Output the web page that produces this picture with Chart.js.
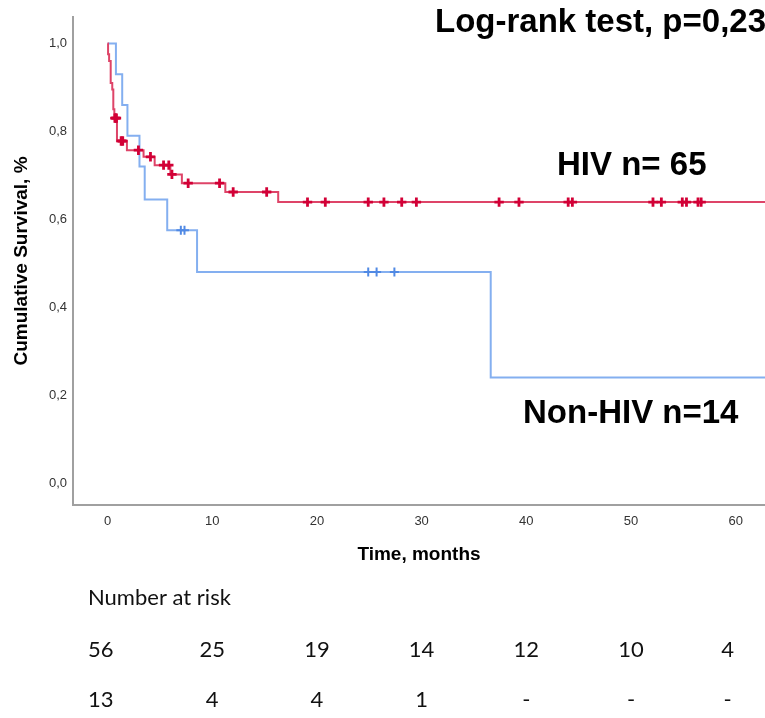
<!DOCTYPE html>
<html>
<head>
<meta charset="utf-8">
<title>Kaplan-Meier HIV / Non-HIV</title>
<script src="https://cdn.jsdelivr.net/npm/chart.js@4.4.1/dist/chart.umd.min.js"></script>
<style>
  html, body { margin: 0; padding: 0; background: #fff; }
  #wrap { position: relative; width: 765px; height: 718px; }
  #kmChart { display: block; }
</style>
</head>
<body>
<div id="wrap"><canvas id="kmChart" width="765" height="718"></canvas></div>
<script>
// ---- Courbe HIV (n=65) : temps des marches (mois) et survie après la marche
const hivTimes = [0, 0.05, 0.15, 0.3, 0.45, 0.55, 0.65, 0.9, 1.85, 3.44, 4.5, 6.0, 7.1, 11.25, 16.3, 62.8];
const hivSurv  = [1.0, 0.975, 0.96, 0.91, 0.895, 0.85, 0.83, 0.778, 0.757, 0.742, 0.723, 0.702, 0.682, 0.662, 0.639, 0.639];
// censures HIV (mois)
const hivCensored = [0.7, 0.78, 0.85, 1.3, 1.45, 2.95, 4.1, 5.35, 5.85, 6.15, 7.7, 10.7, 12.0, 15.2,
                     19.1, 20.8, 24.9, 26.4, 28.1, 29.5, 37.4, 39.3, 44.0, 44.4, 52.1, 52.9, 54.9, 55.3, 56.4, 56.7];

// ---- Courbe Non-HIV (n=14)
const nonHivTimes = [0, 0.8, 1.4, 1.9, 3.05, 3.55, 5.7, 8.55, 36.6, 62.8];
const nonHivSurv  = [1.0, 0.93, 0.86, 0.79, 0.72, 0.645, 0.575, 0.48, 0.24, 0.24];
const nonHivCensored = [7.0, 7.35, 24.9, 25.7, 27.4];

// ---- Axes
const xTicks = [0, 10, 20, 30, 40, 50, 60];
const yTicks = [0, 0.2, 0.4, 0.6, 0.8, 1.0];

// ---- Nombre à risque
const riskHiv    = ['56', '25', '19', '14', '12', '10', '4'];
const riskNonHiv = ['13', '4', '4', '1', '-', '-', '-'];

const RED       = '#de4468';
const RED_MARK  = '#d20036';
const BLUE      = '#84aff0';
const BLUE_MARK = '#5089e4';

// survie au temps t (lecture de la marche)
function survAt(times, surv, t) {
    let s = surv[0];
    for (let i = 0; i < times.length; i++) {
        if (times[i] <= t) s = surv[i];
    }
    return s;
}

const toPoints = (times, surv) => times.map((t, i) => ({ x: t, y: surv[i] }));
const censorPoints = (cens, times, surv) =>
    cens.map(t => ({ x: t, y: survAt(times, surv, t) }));

// ---- Textes hors axes (annotations + table du nombre à risque)
const kmText = {
    id: 'kmText',
    afterDraw(chart) {
        const { ctx } = chart;
        const xs = chart.scales.x;
        ctx.save();
        ctx.fillStyle = '#000';
        ctx.textBaseline = 'middle';
        ctx.textAlign = 'left';
        ctx.font = 'bold 33px "Liberation Sans", Arial, sans-serif';
        ctx.fillText('Log-rank test, p=0,23', 435, 23);
        ctx.fillText('HIV n= 65', 557, 166);
        ctx.fillText('Non-HIV n=14', 523, 414);

        ctx.fillStyle = '#111';
        ctx.font = '22px Lato, "Open Sans", sans-serif';
        ctx.fillText('Number at risk', 88, 598);
        // 1re colonne alignée sur le titre, les autres centrées sur les graduations
        ctx.fillText(riskHiv[0], 88, 650);
        ctx.fillText(riskNonHiv[0], 88, 700);
        ctx.textAlign = 'center';
        xTicks.forEach((t, i) => {
            if (i === 0) return;
            let px = xs.getPixelForValue(t);
            if (i === xTicks.length - 1) px -= 8;
            ctx.fillText(riskHiv[i], px, 650);
            ctx.fillText(riskNonHiv[i], px, 700);
        });
        ctx.restore();
    }
};

const ctx = document.getElementById('kmChart').getContext('2d');
new Chart(ctx, {
    type: 'line',
    data: {
        datasets: [
            // censures HIV
            {
                data: censorPoints(hivCensored, hivTimes, hivSurv),
                showLine: false,
                pointStyle: 'cross',
                pointRadius: 4.7,
                pointBorderWidth: 2.8,
                pointBorderColor: RED_MARK,
                borderColor: RED_MARK
            },
            // courbe HIV
            {
                data: toPoints(hivTimes, hivSurv),
                stepped: 'before',
                borderColor: RED,
                borderWidth: 2,
                pointRadius: 0,
                fill: false
            },
            // censures Non-HIV
            {
                data: censorPoints(nonHivCensored, nonHivTimes, nonHivSurv),
                showLine: false,
                pointStyle: 'cross',
                pointRadius: 4.5,
                pointBorderWidth: 2,
                pointBorderColor: BLUE_MARK,
                borderColor: BLUE_MARK
            },
            // courbe Non-HIV
            {
                data: toPoints(nonHivTimes, nonHivSurv),
                stepped: 'before',
                borderColor: BLUE,
                borderWidth: 2,
                pointRadius: 0,
                fill: false
            }
        ]
    },
    options: {
        responsive: false,
        animation: false,
        events: [],
        layout: { autoPadding: false, padding: { top: 17, left: 0, right: 0, bottom: 143 } },
        plugins: {
            legend: { display: false },
            tooltip: { enabled: false }
        },
        scales: {
            x: {
                type: 'linear',
                min: -3.3,
                max: 62.8,
                afterBuildTicks: (scale) => { scale.ticks = xTicks.map(v => ({ value: v })); },
                afterFit: (scale) => {
                    scale.height = 70;
                    scale.paddingLeft = 0;
                    scale.paddingRight = 0;
                },
                grid: { display: false, drawTicks: false },
                border: { display: true, color: '#a0a0a0', width: 2 },
                ticks: {
                    padding: 9,
                    color: '#333',
                    font: { family: '"Liberation Sans", Arial, sans-serif', size: 13 },
                    maxRotation: 0
                },
                title: {
                    display: true,
                    text: 'Time, months',
                    color: '#000',
                    font: { family: '"Liberation Sans", Arial, sans-serif', size: 19, weight: 'bold' },
                    padding: { top: 0, bottom: 9 }
                }
            },
            y: {
                type: 'linear',
                min: -0.05,
                max: 1.06,
                afterBuildTicks: (scale) => { scale.ticks = yTicks.map(v => ({ value: v })); },
                afterFit: (scale) => {
                    scale.width = 73;
                    scale.paddingTop = 0;
                    scale.paddingBottom = 0;
                },
                grid: { display: false, drawTicks: false },
                border: { display: true, color: '#a0a0a0', width: 2 },
                ticks: {
                    padding: 6,
                    color: '#333',
                    font: { family: '"Liberation Sans", Arial, sans-serif', size: 13 },
                    callback: (v) => Number(v).toFixed(1).replace('.', ',')
                },
                title: {
                    display: true,
                    text: 'Cumulative Survival, %',
                    color: '#000',
                    font: { family: '"Liberation Sans", Arial, sans-serif', size: 19, weight: 'bold' },
                    padding: { top: 10, bottom: 0 }
                }
            }
        }
    },
    plugins: [kmText]
});
</script>
</body>
</html>
